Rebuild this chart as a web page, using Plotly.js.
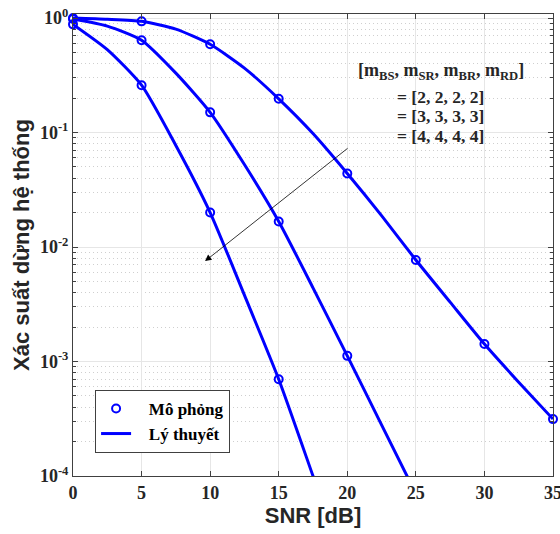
<!DOCTYPE html>
<html>
<head>
<meta charset="utf-8">
<script src="https://cdn.plot.ly/plotly-3.0.1.min.js"></script>
<style>html,body{margin:0;padding:0;background:#fff;}#chart{width:560px;height:534px;}</style>
</head>
<body>
<div id="chart"></div>
<script>
// Simulation points (5 dB steps)
var snrSim = [0, 5, 10, 15, 20, 25, 30, 35];
var simM2 = [1.0, 0.935, 0.59, 0.197, 0.0439, 0.0077, 0.00142, 0.000314];
var simM3 = [0.98, 0.64, 0.150, 0.0167, 0.00112];
var simM4 = [0.88, 0.259, 0.020, 0.0007];

// Theory curves (2.5 dB steps)
var snrTh = [0, 2.5, 5, 7.5, 10, 12.5, 15, 17.5, 20, 22.5, 25, 27.5, 30, 32.5, 35];
var thM2 = [1.0, 0.975, 0.935, 0.80, 0.59, 0.365, 0.197, 0.098, 0.0439, 0.0188, 0.0077, 0.0033, 0.00142, 0.00066, 0.000314];
var thM3 = [0.98, 0.85, 0.64, 0.33, 0.150, 0.0525, 0.0167, 0.0044, 0.00112, 0.00028, 0.00007];
var thM4 = [0.88, 0.53, 0.259, 0.077, 0.020, 0.0038, 0.0007, 0.0001, 0.000014];

var xTicks = [0, 5, 10, 15, 20, 25, 30, 35];
var yTickVals = [1e-4, 1e-3, 1e-2, 1e-1, 1];
var yTickText = ['10<sup>-4</sup>', '10<sup>-3</sup>', '10<sup>-2</sup>', '10<sup>-1</sup>', '10<sup>0</sup>'];

var legendSim = 'Mô phỏng';
var legendTh = 'Lý thuyết';
var noteLines = [
  '[m<sub>BS</sub>, m<sub>SR</sub>, m<sub>BR</sub>, m<sub>RD</sub>]',
  '= [2, 2, 2, 2]',
  '= [3, 3, 3, 3]',
  '= [4, 4, 4, 4]'
];

var BLUE = '#0000ff';
var minorVals = [];
for (var e = -4; e < 0; e++) {
  for (var d = 2; d <= 9; d++) minorVals.push(d * Math.pow(10, e));
}

function lineTrace(x, y) {
  return {x: x.slice(0, y.length), y: y, mode: 'lines', type: 'scatter',
    line: {color: BLUE, width: 3, shape: 'spline', smoothing: 0.6}, showlegend: false, hoverinfo: 'skip'};
}
function simTrace(x, y) {
  return {x: x.slice(0, y.length), y: y, mode: 'markers', type: 'scatter', cliponaxis: false,
    marker: {symbol: 'circle-open', size: 8, color: BLUE, line: {color: BLUE, width: 2}},
    showlegend: false, hoverinfo: 'skip'};
}

var pad = '&nbsp;&nbsp;&nbsp;';
var data = [
  lineTrace(snrTh, thM2), lineTrace(snrTh, thM3), lineTrace(snrTh, thM4),
  simTrace(snrSim, simM2), simTrace(snrSim, simM3), simTrace(snrSim, simM4),
  {x: [null], y: [null], mode: 'markers', type: 'scatter', name: pad + '<b>' + legendSim + '</b>',
   marker: {symbol: 'circle-open', size: 8, color: BLUE, line: {color: BLUE, width: 2}}},
  {x: [null], y: [null], mode: 'lines', type: 'scatter', name: pad + '<b>' + legendTh + '</b>',
   line: {color: BLUE, width: 3}}
];

var serif = 'Liberation Serif, Times New Roman, serif';
var sans = 'Liberation Sans, Arial, sans-serif';

var noteY = [-0.47, -0.69, -0.855, -1.03];
var noteSize = [18, 17.5, 17.5, 17.5];
var annotations = noteLines.map(function(t, i) {
  return {x: 26.8, y: noteY[i], xref: 'x', yref: 'y', text: '<b>' + t + '</b>', showarrow: false,
    xanchor: 'center', yanchor: 'middle', align: 'center',
    font: {family: serif, size: noteSize[i], color: '#262626'}};
});
annotations.push({x: 9.63, y: -2.123, ax: 20.13, ay: -1.128, xref: 'x', yref: 'y', axref: 'x', ayref: 'y',
  text: '', showarrow: true, arrowhead: 2, arrowsize: 1.6, arrowwidth: 0.8, arrowcolor: '#000000'});

var layout = {
  width: 560, height: 534,
  margin: {l: 73, r: 7, t: 14, b: 58},
  paper_bgcolor: '#ffffff', plot_bgcolor: '#ffffff',
  showlegend: true,
  legend: {x: 0.046, y: 0.05, xanchor: 'left', yanchor: 'bottom',
    bgcolor: '#ffffff', bordercolor: '#404040', borderwidth: 1,
    font: {family: serif, size: 17, color: '#000000'}, tracegroupgap: 0},
  xaxis: {
    range: [0, 35], tickvals: xTicks, ticktext: xTicks.map(function(v){return '<b>' + v + '</b>';}),
    ticks: 'inside', ticklen: 5, tickcolor: '#404040', mirror: 'ticks', ticklabeloverflow: 'allow',
    showline: true, linecolor: '#404040', linewidth: 1,
    showgrid: true, gridcolor: '#e6e6e6', gridwidth: 1, zeroline: false,
    tickfont: {family: serif, size: 18, color: '#262626'},
    title: {text: '<b>SNR [dB]</b>', font: {family: sans, size: 22, color: '#262626'}, standoff: 6}
  },
  yaxis: {
    type: 'log', range: [-4, 0.035], tickvals: yTickVals, ticktext: yTickText.map(function(t){return '<b>' + t + '</b>';}),
    ticks: 'inside', ticklen: 5, tickcolor: '#404040', mirror: 'ticks', ticklabeloverflow: 'allow',
    showline: true, linecolor: '#404040', linewidth: 1,
    showgrid: true, gridcolor: '#e6e6e6', gridwidth: 1, zeroline: false,
    tickfont: {family: serif, size: 18, color: '#262626'},
    minor: {tickmode: 'array', tickvals: minorVals, ticks: 'inside', ticklen: 3, tickcolor: '#404040',
      showgrid: true, gridcolor: '#cfcfcf', griddash: '1px,3px', gridwidth: 1},
    title: {text: '<b>Xác suất dừng hệ thống</b>', font: {family: sans, size: 22, color: '#262626'}, standoff: 4}
  },
  annotations: annotations
};

Plotly.newPlot('chart', data, layout, {staticPlot: true, displayModeBar: false});
</script>
</body>
</html>
